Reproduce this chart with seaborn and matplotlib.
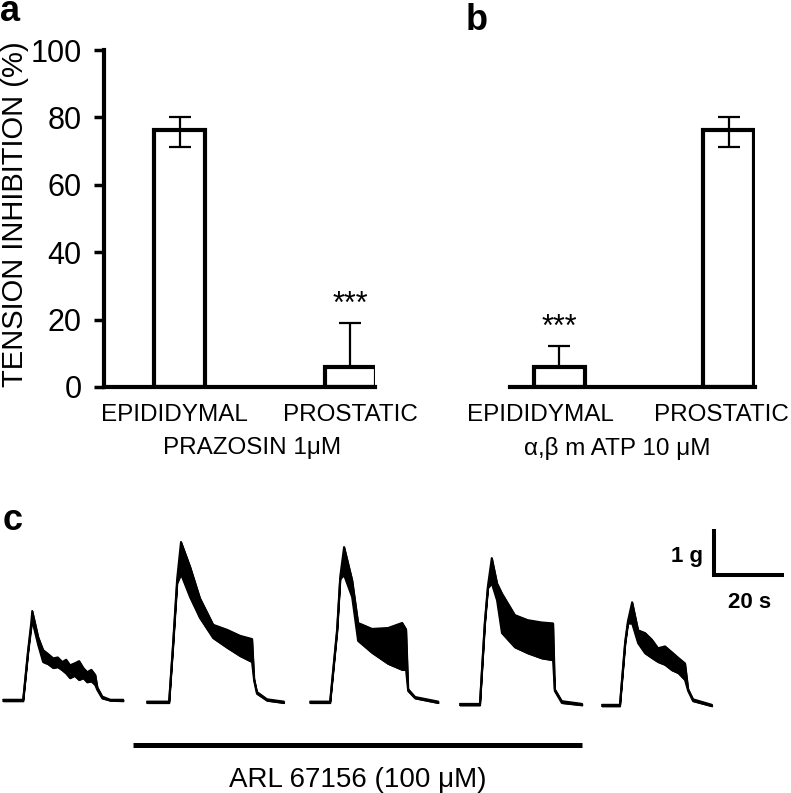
import numpy as np
import pandas as pd
import seaborn as sns
import matplotlib.pyplot as plt

sns.set_style("white")
plt.rcParams['font.family'] = ['Liberation Sans', 'DejaVu Sans']
plt.rcParams.update({"text.color": "black", "axes.labelcolor": "black",
                     "xtick.color": "black", "ytick.color": "black"})

# --- bar data (panels a and b), % tension inhibition ---
tissues = ["EPIDIDYMAL", "PROSTATIC"]
prazosin_mean = [76.3, 6.0]
prazosin_lo = [71.3, 6.0]      # lower end of error bar
prazosin_hi = [80.1, 19.1]     # upper end of error bar
abmatp_mean = [5.8, 76.3]
abmatp_lo = [5.8, 71.3]
abmatp_hi = [12.2, 80.2]

# --- contraction traces (panel c): time (s) from sweep start, envelope (g) ---
trace_start = [0.9, 42.0, 88.6, 131.4, 172.0]
trace_base = [0.02, -0.02, -0.02, -0.07, -0.09]
trace_t = [
    [0, 5.7, 7.1, 8.0, 8.3, 10.0, 11.4, 12.9, 14.3, 15.6, 16.9, 18.0, 19.1, 20.4, 21.7, 22.9, 24.0, 25.2, 26.3, 26.9, 28.3, 30.6, 34.3],
    [0, 6.3, 7.4, 8.6, 9.7, 12.3, 15.1, 18.9, 22.9, 26.6, 30.0, 30.6, 31.4, 34.3, 39.1],
    [0, 5.7, 7.7, 8.6, 9.7, 12.0, 13.7, 17.7, 22.3, 26.3, 27.4, 28.0, 30.0, 36.6],
    [0, 5.7, 7.1, 8.0, 9.1, 10.6, 12.0, 15.7, 19.4, 23.4, 26.6, 27.1, 29.1, 34.9],
    [0, 5.1, 6.6, 7.4, 8.6, 10.3, 12.3, 14.2, 16.0, 18.0, 20.0, 21.8, 23.7, 24.6, 26.0, 31.4],
]
trace_lo = [
    [0, 0, 1.05, 1.6, 1.75, 1.22, 0.85, 0.8, 0.72, 0.74, 0.67, 0.6, 0.5, 0.55, 0.46, 0.5, 0.41, 0.43, 0.35, 0.24, 0.06, 0.01, 0],
    [0, 0, 1.2, 2.6, 2.8, 2.3, 1.85, 1.41, 1.2, 1.02, 0.89, 0.48, 0.2, 0.05, 0],
    [0, 0, 1.55, 2.7, 2.78, 2.3, 1.35, 1.09, 0.85, 0.72, 0.72, 0.26, 0.1, 0],
    [0, 0, 1.75, 2.55, 2.65, 2.28, 1.57, 1.26, 1.13, 1.02, 0.98, 0.31, 0.05, 0],
    [0, 0, 1.35, 1.8, 1.8, 1.37, 1.15, 1.05, 0.96, 0.9, 0.78, 0.72, 0.57, 0.33, 0.11, 0],
]
trace_hi = [
    [0.03, 0.03, 1.1, 1.7, 1.96, 1.39, 1.11, 1.02, 0.93, 0.95, 0.85, 0.9, 0.78, 0.82, 0.87, 0.72, 0.63, 0.68, 0.57, 0.3, 0.1, 0.03, 0.03],
    [0.03, 0.03, 1.25, 2.7, 3.5, 2.96, 2.28, 1.7, 1.59, 1.46, 1.39, 0.52, 0.24, 0.08, 0.03],
    [0.03, 0.03, 1.6, 2.75, 3.39, 2.67, 1.74, 1.61, 1.63, 1.74, 1.6, 0.3, 0.13, 0.03],
    [0.03, 0.03, 1.8, 2.6, 3.2, 2.65, 2.43, 1.96, 1.85, 1.8, 1.78, 0.35, 0.09, 0.03],
    [0.03, 0.03, 1.4, 1.85, 2.26, 1.65, 1.59, 1.45, 1.26, 1.3, 1.17, 1.05, 0.93, 0.37, 0.15, 0.03],
]

W, H = 791, 793
fig = plt.figure(figsize=(W / 100, H / 100), dpi=100)


def px_axes(x0, y0, x1, y1):
    # axes from pixel box (top-left origin)
    return fig.add_axes([x0 / W, 1 - y1 / H, (x1 - x0) / W, (y1 - y0) / H])


def bar_panel(ax, means, lo, hi, tick_shift):
    df = pd.DataFrame({"tissue": tissues, "value": means})
    sns.barplot(data=df, x="tissue", y="value", ax=ax, color="white",
                edgecolor="black", linewidth=3, width=0.3, saturation=1)
    err = [np.array(means) - np.array(lo), np.array(hi) - np.array(means)]
    ax.errorbar(range(len(means)), means, yerr=err, fmt="none", ecolor="black",
                elinewidth=1.6, capsize=8, capthick=1.6, zorder=5)
    for i in range(len(means)):
        if means[i] < 20:
            ax.text(i, hi[i] + 0.8, "***", ha="center", va="bottom", fontsize=22)
    ax.set_ylim(0, 100)
    ax.set_xlabel("")
    ax.set_ylabel("")
    ax.set_xticks(np.arange(len(tissues)) + np.array(tick_shift))
    ax.set_xticklabels(tissues, fontsize=17.5)
    ax.tick_params(axis="x", length=0, pad=12)
    for s in ["top", "right"]:
        ax.spines[s].set_visible(False)
    ax.spines["bottom"].set_linewidth(3)
    ax.spines["bottom"].set_color("black")


# panel a
ax_a = px_axes(104, 50, 375, 387)
bar_panel(ax_a, prazosin_mean, prazosin_lo, prazosin_hi, [-0.03, 0])
ax_a.set_xlim(-0.447, 1.147)
ax_a.spines["left"].set_linewidth(3)
ax_a.spines["left"].set_color("black")
ax_a.set_yticks([0, 20, 40, 60, 80, 100])
ax_a.tick_params(axis="y", length=7, width=2.5, pad=9, labelsize=22, left=True)

# panel b
ax_b = px_axes(510, 50, 755, 387)
bar_panel(ax_b, abmatp_mean, abmatp_lo, abmatp_hi, [-0.11, -0.045])
ax_b.set_xlim(-0.291, 1.156)
ax_b.spines["left"].set_visible(False)
ax_b.set_yticks([])

fig.text(15 / W, 1 - 214 / H, "TENSION INHIBITION (%)", rotation=90,
         ha="center", va="center", fontsize=21)
fig.text(252 / W, 1 - 448 / H, "PRAZOSIN 1\u03bcM", ha="center", va="center", fontsize=17.5)
fig.text(617 / W, 1 - 448 / H, "\u03b1,\u03b2 m ATP 10 \u03bcM", ha="center", va="center", fontsize=17.5)
fig.text(0 / W, 1 - 21 / H, "a", ha="left", va="baseline", fontsize=26, fontweight="bold")
fig.text(466 / W, 1 - 30 / H, "b", ha="left", va="baseline", fontsize=26, fontweight="bold")

# panel c: contraction traces, x in seconds, y in grams
ax_c = px_axes(0, 500, W, H)
ax_c.set_xlim(0, W / 3.5)
ax_c.set_ylim((702 - H) / 46, (702 - 500) / 46)
ax_c.axis("off")

for k in range(len(trace_t)):
    t = trace_start[k] + np.array(trace_t[k])
    lo = trace_base[k] + np.array(trace_lo[k])
    hi = trace_base[k] + np.array(trace_hi[k])
    ax_c.fill_between(t, lo, hi, color="black", lw=1.0)
    sns.lineplot(x=t, y=lo, ax=ax_c, color="black", lw=1.4, sort=False, estimator=None)
    sns.lineplot(x=t, y=hi, ax=ax_c, color="black", lw=1.4, sort=False, estimator=None)

# drug application bar
bar_x0 = trace_start[1] - 4
bar_x1 = trace_start[3] + trace_t[3][-1]
ax_c.plot([bar_x0, bar_x1], [-0.935, -0.935], color="black", lw=3.6, solid_capstyle="butt")
ax_c.text((bar_x0 + bar_x1) / 2, -1.85, "ARL 67156 (100 \u03bcM)", ha="center",
          va="baseline", fontsize=20)

# scale bar: 1 g, 20 s
sx, sy = 204.0, 2.76
ax_c.plot([sx, sx, sx + 20], [sy + 1, sy, sy], color="black", lw=2.9,
          solid_capstyle="butt", solid_joinstyle="miter")
ax_c.text(200.9, 3.04, "1 g", ha="right", va="baseline", fontsize=16, fontweight="bold")
ax_c.text(214.1, 2.04, "20 s", ha="center", va="baseline", fontsize=16, fontweight="bold")
fig.text(3 / W, 1 - 530 / H, "c", ha="left", va="baseline", fontsize=26, fontweight="bold")

fig.savefig("out.png", dpi=100)
